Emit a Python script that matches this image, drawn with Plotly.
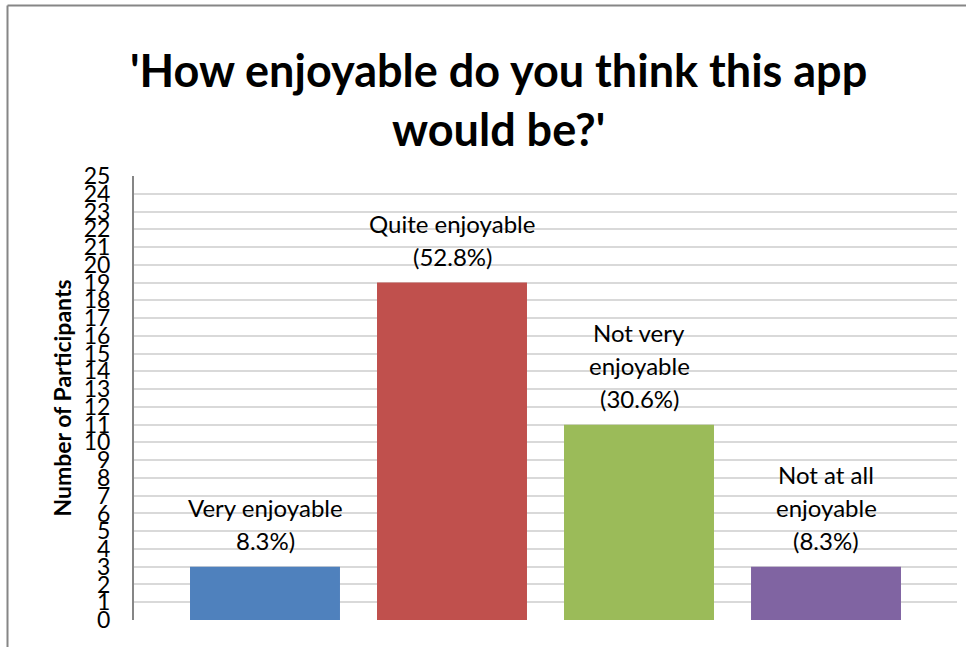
import plotly.graph_objects as go

# Survey responses
categories = ["Very enjoyable", "Quite enjoyable", "Not very enjoyable", "Not at all enjoyable"]
counts = [3, 19, 11, 3]
label_lines = [
    ["Very enjoyable", "8.3%)"],
    ["Quite enjoyable", "(52.8%)"],
    ["Not very", "enjoyable", "(30.6%)"],
    ["Not at all", "enjoyable", "(8.3%)"],
]
colors = ["#4F81BD", "#C0504D", "#9BBB59", "#8064A2"]
y_ticks = list(range(0, 26))

FONT = "Lato"
W, H = 976, 647
ML, MR, MT, MB = 134, 19, 176, 27
PW = W - ML - MR

fig = go.Figure()
fig.add_trace(go.Bar(
    x=list(range(len(categories))),
    y=counts,
    marker=dict(color=colors, line=dict(width=0)),
    width=0.802,
    hoverinfo="skip",
    showlegend=False,
))

# Data labels stacked above each bar, one line per annotation
line_gap = 33
for i, (v, lines) in enumerate(zip(counts, label_lines)):
    n = len(lines)
    for k, txt in enumerate(lines):
        fig.add_annotation(
            x=i, y=v, xref="x", yref="y",
            text=txt, showarrow=False,
            yanchor="middle",
            yshift=26 + (n - 1 - k) * line_gap,
            font=dict(family=FONT, size=24, color="#000000"),
        )

# Chart title
fig.add_annotation(
    x=(498 - ML) / PW, y=1, xref="paper", yref="paper",
    yanchor="bottom", yshift=18,
    text="<b>'How enjoyable do you think this app<br>would be?'</b>",
    showarrow=False,
    font=dict(family=FONT, size=45, color="#000000"),
)

# Outer frame (left and top edges)
PH = H - MT - MB
fig.add_shape(type="line", xref="paper", yref="paper",
              x0=(7.5 - ML) / PW, x1=(7.5 - ML) / PW,
              y0=-MB / PH - 0.01, y1=(H - 5.5 - MB) / PH,
              line=dict(color="#868686", width=2))
fig.add_shape(type="line", xref="paper", yref="paper",
              x0=(7.5 - ML) / PW, x1=(966 - ML) / PW,
              y0=(H - 5.5 - MB) / PH, y1=(H - 5.5 - MB) / PH,
              line=dict(color="#868686", width=2))

fig.update_layout(
    width=W, height=H,
    margin=dict(l=ML, r=MR, t=MT, b=MB),
    paper_bgcolor="white",
    plot_bgcolor="white",
    xaxis=dict(
        range=[-0.7005, 3.7005],
        showticklabels=False, showgrid=False, zeroline=False,
        showline=False, ticks="",
    ),
    yaxis=dict(
        range=[0, 25],
        tickvals=y_ticks,
        ticktext=[str(t) for t in y_ticks],
        showgrid=True, gridcolor="#D9D9D9", gridwidth=1.5,
        zeroline=False,
        showline=True, linecolor="#868686", linewidth=2,
        ticks="outside", ticklen=0, tickcolor="#868686",
        ticklabelstandoff=17,
        tickfont=dict(family=FONT, size=23, color="#000000"),
        title=dict(text="<b>Number of Participants</b>",
                   font=dict(family=FONT, size=23, color="#000000"),
                   standoff=6),
    ),
    font=dict(family=FONT),
)

fig.write_html("out.html")
